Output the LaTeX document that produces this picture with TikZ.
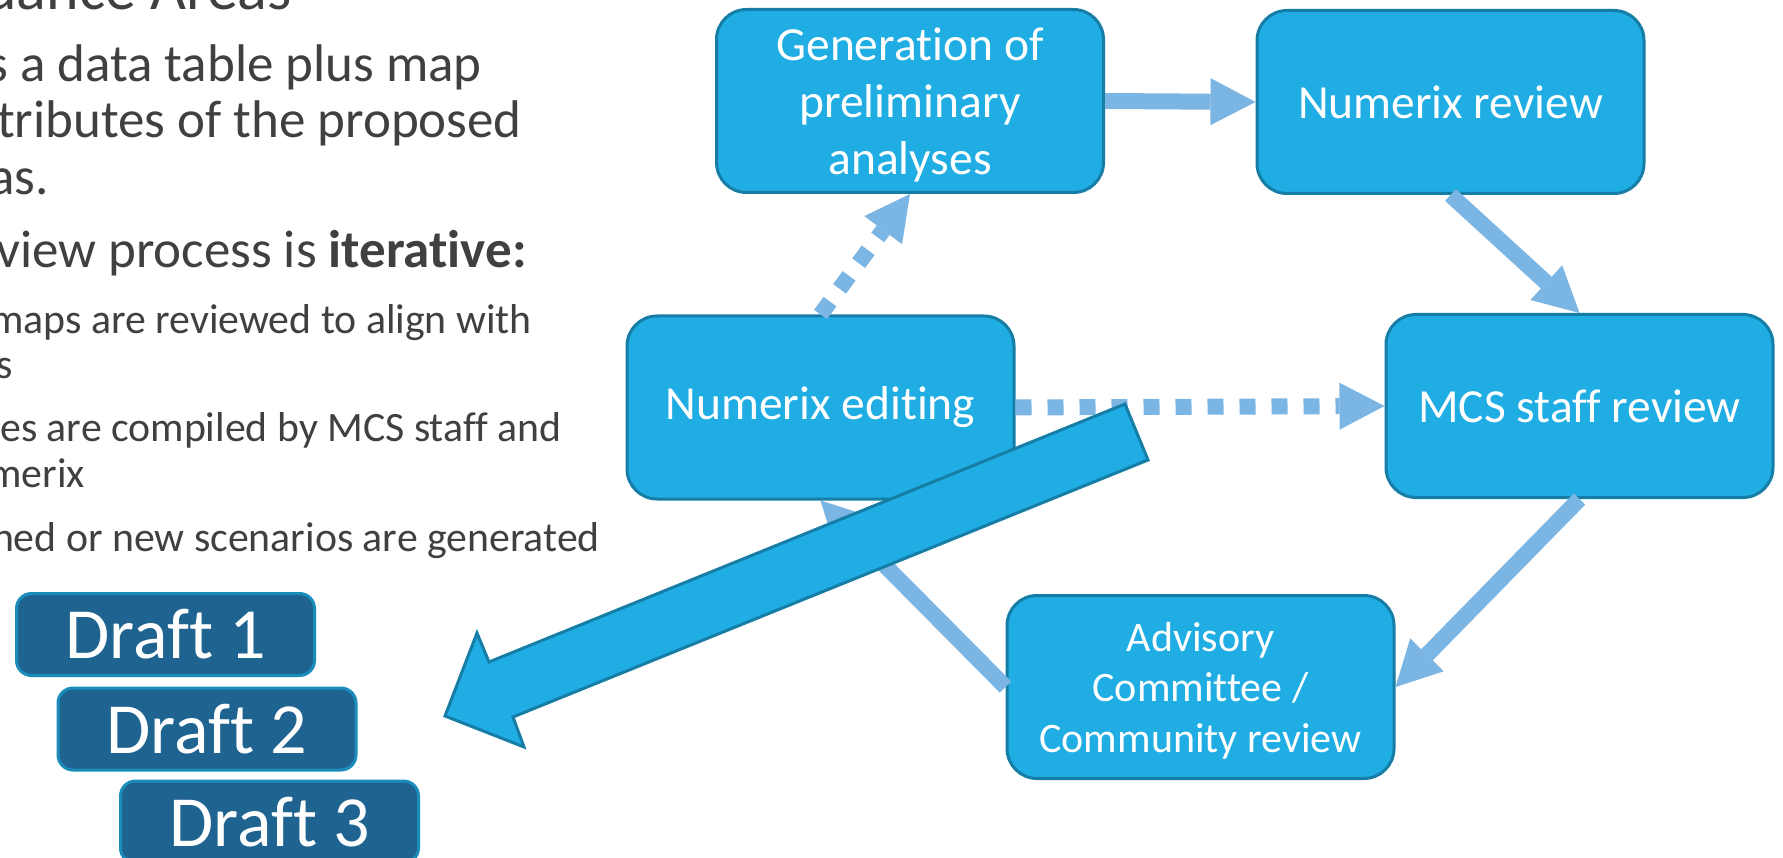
\documentclass[tikz,border=0pt]{standalone}
\usepackage{fontspec}
\setmainfont{Carlito}[RawFeature={-liga;-clig;-calt;-rlig;-dlig}]
\usetikzlibrary{arrows.meta}
\definecolor{boxfill}{HTML}{1FADE3}
\definecolor{boxline}{HTML}{167EA6}
\definecolor{connblue}{HTML}{7AB5E3}
\definecolor{draftfill}{HTML}{1F6391}
\definecolor{draftline}{HTML}{1A8DBB}
\definecolor{txtgray}{HTML}{404040}
\begin{document}
\begin{tikzpicture}[x=1pt,y=-1pt,
  procbox/.style={draw=boxline, fill=boxfill, line width=3pt, rounded corners=30pt,
    minimum width=387pt, minimum height=183pt, text=white, align=center,
    font=\fontsize{47.5}{57}\selectfont, inner sep=0pt},
  draftbox/.style={draw=draftline, fill=draftfill, line width=3pt, rounded corners=15pt,
    minimum width=298pt, minimum height=82pt, text=white, inner sep=0pt,
    font=\fontsize{72}{86}\selectfont},
  flow/.style={draw=connblue, line width=16pt, -{Triangle[length=45pt,width=47pt,line width=0pt]}},
  dotflow/.style={flow, dash pattern=on 16pt off 16pt},
  bigtxt/.style={anchor=base east, inner sep=0pt, text=txtgray, font=\fontsize{53}{57}\selectfont},
  subtxt/.style={anchor=base east, inner sep=0pt, text=txtgray, font=\fontsize{41.8}{47}\selectfont},
  bigarrow/.style={draw=boxline, fill=boxfill, line width=3pt, line join=miter}
]
\useasboundingbox (0,0) rectangle (1783,858);
\fill[white] (0,0) rectangle (1783,858);
\clip (0,0) rectangle (1783,858);

% left text (cut off at the slide edge)
\node[anchor=base east, inner sep=0pt, text=txtgray, font=\fontsize{62}{70}\selectfont] (title) at (292,10) {dance Areas};
\node[bigtxt] (l1) at (482,82) {s a data table plus map};
\node[bigtxt] (l2) at (522,138) {tributes of the proposed};
\node[bigtxt] (l3) at (49,195) {as.};
\node[bigtxt] (l4) at (527,268) {view process is \textbf{iterative:}};
\node[subtxt] (s1) at (532,334) {maps are reviewed to align with};
\node[subtxt] (s2) at (13,379) {s};
\node[subtxt] (s3) at (562,442) {es are compiled by MCS staff and};
\node[subtxt] (s4) at (85,487) {merix};
\node[subtxt] (s5) at (600,551) {ned or new scenarios are generated};

% process boxes
\node[procbox, text depth=0pt] (gen) at (910,101) {Generation of\\preliminary\\analyses};
\node[procbox] (nrev) at (1450.5,102) {Numerix review};
\node[procbox] (mcs) at (1579.5,406) {MCS staff review};
\node[procbox] (nedit) at (820.5,407.5) {Numerix editing};
\node[procbox, text depth=0pt, font=\fontsize{42}{50.5}\selectfont] (adv) at (1200.5,687) {Advisory\\Committee /\\Community review};

% drafts
\node[draftbox] (d1) at (165.5,634.5) {Draft 1};
\node[draftbox] (d2) at (207,729) {Draft 2};
\node[draftbox] (d3) at (269.5,822) {Draft 3};

% connectors
\draw[flow] (gen.east) -- (nrev.west);
\draw[flow] (nrev.south) -- (mcs.north);
\draw[flow] (mcs.south) -- (adv.east);
\draw[flow] (adv.west) -- (nedit.south);
\draw[dotflow] (nedit.north) -- (gen.south);
\draw[dotflow] (nedit.east) -- (mcs.west);

% big block arrow towards the drafts
\draw[bigarrow] (1125,404) -- (1148,460) -- (513,717) -- (524,747) -- (445,716)
  -- (477,633) -- (489,662) -- cycle;
\end{tikzpicture}
\end{document}
